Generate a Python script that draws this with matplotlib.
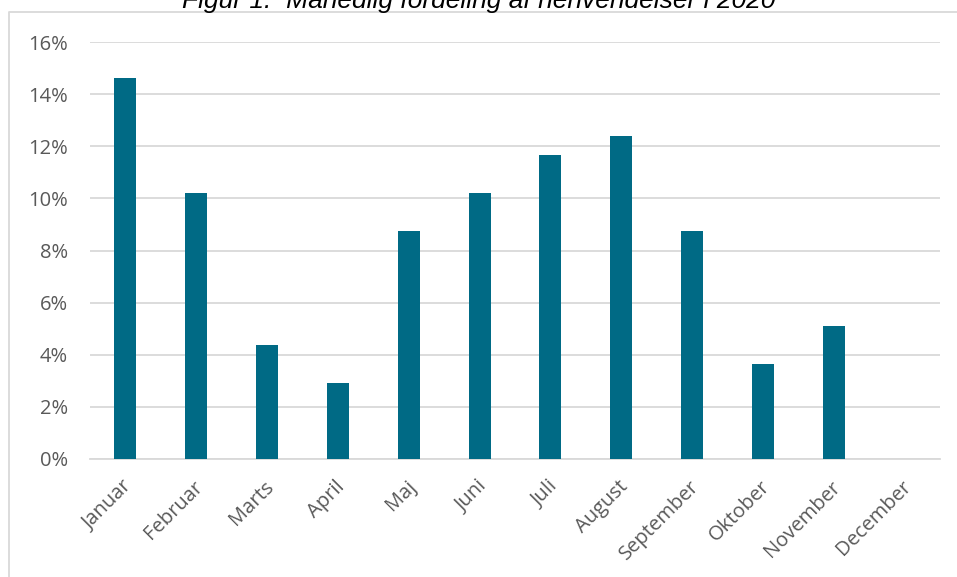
import matplotlib
matplotlib.use('Agg')
import matplotlib.pyplot as plt
import matplotlib.transforms as mtransforms
from matplotlib.lines import Line2D
from matplotlib.ticker import PercentFormatter

# ── Data ──
months = ['Januar', 'Februar', 'Marts', 'April', 'Maj', 'Juni',
          'Juli', 'August', 'September', 'Oktober', 'November', 'December']
shares = [14.6, 10.2, 4.38, 2.92, 8.76, 10.2, 11.68, 12.41, 8.76, 3.65, 5.11, 0.0]
y_ticks = [0, 2, 4, 6, 8, 10, 12, 14, 16]

bar_color = '#006A85'
grid_color = '#D9D9D9'
text_color = '#595959'

W, H = 957, 577
fig = plt.figure(figsize=(W / 100, H / 100), dpi=100)
ax = fig.add_axes([90 / W, 1 - 459 / H, 850 / W, 417 / H])

x = range(len(months))
ax.bar(x, shares, width=0.31, color=bar_color, zorder=3)

ax.set_xlim(-0.5, len(months) - 0.5)
ax.set_ylim(0, 16)
ax.set_yticks(y_ticks)
ax.yaxis.set_major_formatter(PercentFormatter(decimals=0))
ax.grid(axis='y', color=grid_color, linewidth=1.3, zorder=0)

for side in ['left', 'right', 'top']:
    ax.spines[side].set_visible(False)
ax.spines['bottom'].set_color(grid_color)
ax.spines['bottom'].set_linewidth(1.3)

ax.set_xticks(list(x))
ax.set_xticklabels(months, rotation=45, ha='right', va='center',
                   rotation_mode='anchor',
                   fontsize=14.5, color=text_color, family='Open Sans')
ax.tick_params(axis='x', length=0, pad=18)
ax.tick_params(axis='y', length=0, pad=16, labelsize=14.5, labelcolor=text_color)
for lbl in ax.get_yticklabels():
    lbl.set_family('Open Sans')

# nudge the rotated month labels slightly to the right
shift = mtransforms.ScaledTranslation(4 / 100, 0, fig.dpi_scale_trans)
for lbl in ax.get_xticklabels():
    lbl.set_transform(lbl.get_transform() + shift)

# chart frame (left and top edges visible)
fig.add_artist(Line2D([9 / W, 9 / W, 1.0], [0.0, 1 - 12 / H, 1 - 12 / H],
                      transform=fig.transFigure, color=grid_color, linewidth=1.3))

# title, partly cut off at the top edge
fig.text(0.5, 1 - 8 / H, 'Figur 1:  Månedlig fordeling af henvendelser i 2020',
         ha='center', va='baseline', fontsize=19, style='italic',
         family='Liberation Sans', color='black')

plt.savefig('out.png', dpi=100)
